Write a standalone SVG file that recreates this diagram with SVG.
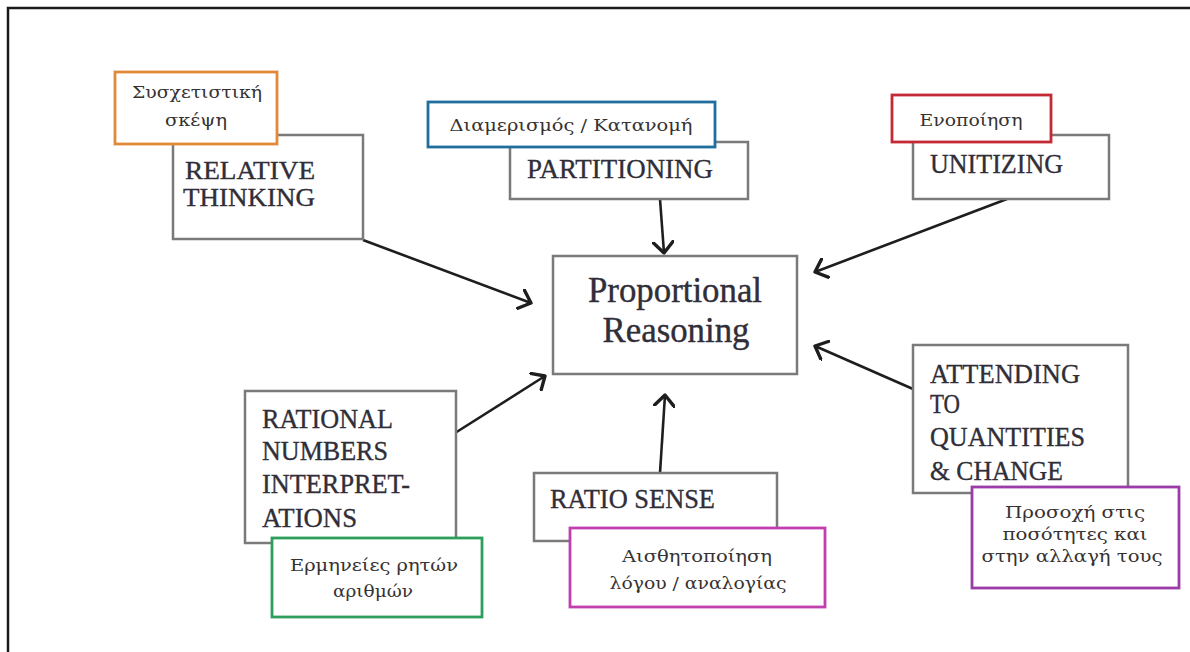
<svg xmlns="http://www.w3.org/2000/svg" width="1190" height="652" viewBox="0 0 1190 652">
  <style>
    .frame { stroke: #1a1a1a; stroke-width: 2.5; fill: none; }
    .box { fill: #ffffff; stroke: #7a7a7a; stroke-width: 2.5; }
    .lbl { fill: #ffffff; stroke-width: 2.8; }
    .main { font-family: "Liberation Serif", "Times New Roman", serif; font-size: 28px; fill: #302e38; stroke: #302e38; stroke-width: 0.35; }
    .rt { font-size: 25px; }
    .center { font-family: "Liberation Serif", "Times New Roman", serif; font-size: 36px; fill: #302e38; stroke: #302e38; stroke-width: 0.4; }
    .gr { font-family: "DejaVu Serif", "Liberation Serif", serif; font-size: 17px; fill: #363232; }
    .conn { stroke: #1e1e1e; stroke-width: 2.6; fill: none; marker-end: url(#arr); }
  </style>
  <defs>
    <marker id="arr" viewBox="0 0 14 22" markerWidth="14" markerHeight="22" refX="12" refY="11" orient="auto" markerUnits="userSpaceOnUse">
      <path d="M1,1 L12,11 L1,21" fill="none" stroke="#1e1e1e" stroke-width="3.4" stroke-linecap="round" stroke-linejoin="round"/>
    </marker>
  </defs>
  <rect width="1190" height="652" fill="#ffffff"/>
  <path class="frame" d="M8,652 L8,8 L1190,8"/>

  <g id="connectors">
    <line class="conn" x1="363" y1="240" x2="531" y2="303"/>
    <line class="conn" x1="660" y1="199" x2="664" y2="253"/>
    <line class="conn" x1="1007" y1="199" x2="815" y2="272"/>
    <line class="conn" x1="455" y1="433" x2="545" y2="376"/>
    <line class="conn" x1="660" y1="473" x2="665" y2="395"/>
    <line class="conn" x1="913" y1="389" x2="815" y2="346"/>
  </g>

  <g id="center">
    <rect class="box" x="553" y="256" width="244" height="118"/>
    <text class="center" x="675" y="302" text-anchor="middle" textLength="174" lengthAdjust="spacingAndGlyphs">Proportional</text>
    <text class="center" x="676" y="342" text-anchor="middle" textLength="147" lengthAdjust="spacingAndGlyphs">Reasoning</text>
  </g>

  <g id="relative-thinking">
    <rect class="box" x="173" y="135" width="190" height="104"/>
    <text class="main rt" x="185" y="179" textLength="130" lengthAdjust="spacingAndGlyphs">RELATIVE</text>
    <text class="main rt" x="183" y="206" textLength="132" lengthAdjust="spacingAndGlyphs">THINKING</text>
  </g>
  <g id="label-relative">
    <rect class="lbl" x="115" y="72" width="162" height="72" stroke="#e0893a"/>
    <text class="gr" x="197" y="98" text-anchor="middle" textLength="130" lengthAdjust="spacingAndGlyphs">Συσχετιστική</text>
    <text class="gr" x="196" y="126" text-anchor="middle" textLength="62" lengthAdjust="spacingAndGlyphs">σκέψη</text>
  </g>

  <g id="partitioning">
    <rect class="box" x="510" y="142" width="238" height="57"/>
    <text class="main" x="527" y="178" textLength="186" lengthAdjust="spacingAndGlyphs">PARTITIONING</text>
  </g>
  <g id="label-partitioning">
    <rect class="lbl" x="428" y="102" width="287" height="45" stroke="#1f6e9e"/>
    <text class="gr" x="571" y="131" text-anchor="middle" textLength="243" lengthAdjust="spacingAndGlyphs">Διαμερισμός / Κατανομή</text>
  </g>

  <g id="unitizing">
    <rect class="box" x="913" y="135" width="196" height="64"/>
    <text class="main" x="930" y="173" textLength="133" lengthAdjust="spacingAndGlyphs">UNITIZING</text>
  </g>
  <g id="label-unitizing">
    <rect class="lbl" x="892" y="95" width="159" height="47" stroke="#c42a36"/>
    <text class="gr" x="971" y="126" text-anchor="middle" textLength="103" lengthAdjust="spacingAndGlyphs">Ενοποίηση</text>
  </g>

  <g id="rational-numbers">
    <rect class="box" x="245" y="391" width="211" height="152"/>
    <text class="main" x="262" y="428" textLength="131" lengthAdjust="spacingAndGlyphs">RATIONAL</text>
    <text class="main" x="262" y="460" textLength="126" lengthAdjust="spacingAndGlyphs">NUMBERS</text>
    <text class="main" x="262" y="493" textLength="148" lengthAdjust="spacingAndGlyphs">INTERPRET-</text>
    <text class="main" x="262" y="527" textLength="95" lengthAdjust="spacingAndGlyphs">ATIONS</text>
  </g>
  <g id="label-rational">
    <rect class="lbl" x="272" y="538" width="210" height="79" stroke="#2e9e5c"/>
    <text class="gr" x="374" y="571" text-anchor="middle" textLength="168" lengthAdjust="spacingAndGlyphs">Ερμηνείες ρητών</text>
    <text class="gr" x="373" y="597" text-anchor="middle" textLength="80" lengthAdjust="spacingAndGlyphs">αριθμών</text>
  </g>

  <g id="ratio-sense">
    <rect class="box" x="534" y="473" width="243" height="68"/>
    <text class="main" x="550" y="508" textLength="165" lengthAdjust="spacingAndGlyphs">RATIO SENSE</text>
  </g>
  <g id="label-ratio">
    <rect class="lbl" x="570" y="528" width="255" height="79" stroke="#c23fae"/>
    <text class="gr" x="697" y="562" text-anchor="middle" textLength="150" lengthAdjust="spacingAndGlyphs">Αισθητοποίηση</text>
    <text class="gr" x="698" y="589" text-anchor="middle" textLength="177" lengthAdjust="spacingAndGlyphs">λόγου / αναλογίας</text>
  </g>

  <g id="attending">
    <rect class="box" x="913" y="345" width="215" height="148"/>
    <text class="main" x="930" y="383" textLength="150" lengthAdjust="spacingAndGlyphs">ATTENDING</text>
    <text class="main" x="930" y="413" textLength="30" lengthAdjust="spacingAndGlyphs">TO</text>
    <text class="main" x="930" y="446" textLength="155" lengthAdjust="spacingAndGlyphs">QUANTITIES</text>
    <text class="main" x="930" y="480" textLength="133" lengthAdjust="spacingAndGlyphs">&amp; CHANGE</text>
  </g>
  <g id="label-attending">
    <rect class="lbl" x="972" y="487" width="207" height="101" stroke="#9b3ca8"/>
    <text class="gr" x="1075" y="518" text-anchor="middle" textLength="140" lengthAdjust="spacingAndGlyphs">Προσοχή στις</text>
    <text class="gr" x="1075" y="540" text-anchor="middle" textLength="145" lengthAdjust="spacingAndGlyphs">ποσότητες και</text>
    <text class="gr" x="1072" y="562" text-anchor="middle" textLength="181" lengthAdjust="spacingAndGlyphs">στην αλλαγή τους</text>
  </g>
</svg>
